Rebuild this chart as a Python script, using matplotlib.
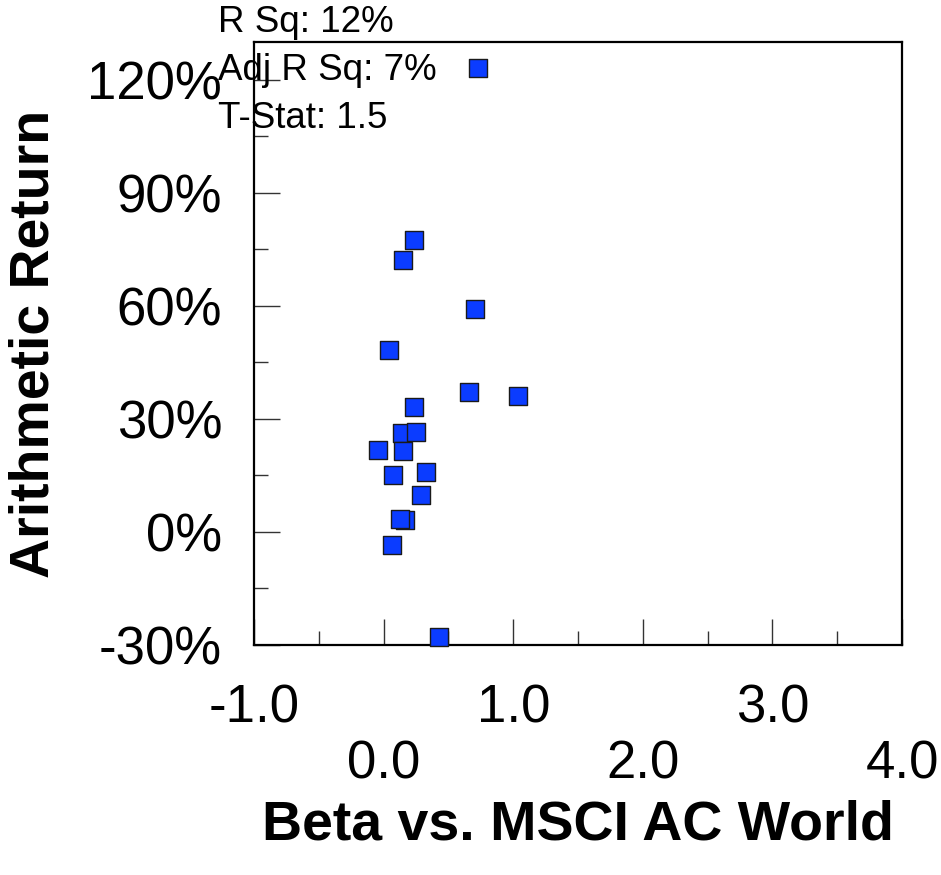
import matplotlib
matplotlib.use("Agg")
import matplotlib.pyplot as plt
from matplotlib.ticker import MultipleLocator, FuncFormatter

plt.rcParams['font.family'] = ['Liberation Sans', 'DejaVu Sans']

# beta vs. MSCI AC World and arithmetic return (%) per fund
beta = [0.233, 0.150, 0.708, 0.040, 0.662, 1.036, 0.235, 0.143, 0.248,
        -0.045, 0.148, 0.330, 0.071, 0.292, 0.166, 0.125, 0.066, 0.728, 0.428]
ret = [77.4, 72.2, 59.1, 48.3, 37.2, 36.1, 33.1, 26.3, 26.4,
       21.7, 21.4, 15.9, 15.0, 9.8, 3.1, 3.4, -3.5, 123.1, -28.0]

stats = ["R Sq: 12%", "Adj R Sq: 7%", "T-Stat: 1.5"]
x_ticks = [-1.0, 0.0, 1.0, 2.0, 3.0, 4.0]

fig = plt.figure(figsize=(9.41, 8.75), dpi=100)
ax = fig.add_axes([254 / 941, 1 - 645 / 875, 648 / 941, 603 / 875])

ax.scatter(beta, ret, marker='s', s=150, c='#0b3cff', edgecolors='#1a1a1a',
           linewidths=1.0, zorder=3, clip_on=False)

ax.set_xlim(-1.0, 4.0)
ax.set_ylim(-30, 130)

# staggered labels on the x axis
ax.set_xticks(x_ticks)
ax.set_xticklabels([("" if i % 2 == 0 else "\n") + f"{v:.1f}"
                    for i, v in enumerate(x_ticks)])
ax.xaxis.set_minor_locator(MultipleLocator(0.5))
ax.yaxis.set_major_locator(MultipleLocator(30))
ax.yaxis.set_minor_locator(MultipleLocator(15))
ax.yaxis.set_major_formatter(FuncFormatter(lambda v, p: f"{v:.0f}%"))

ax.tick_params(axis='both', which='both', direction='in', color='#333333',
               width=1.0, top=False, right=False)
ax.tick_params(axis='both', which='major', length=19, labelsize=38)
ax.tick_params(axis='both', which='minor', length=10)
ax.tick_params(axis='x', which='major', pad=28)
ax.tick_params(axis='y', which='major', pad=23)
for t in ax.get_xticklabels():
    t.set_linespacing(1.15)

for sp in ax.spines.values():
    sp.set_linewidth(1.6)
    sp.set_color('black')

ax.set_xlabel("Beta vs. MSCI AC World", fontsize=40, fontweight='bold', va='center')
ax.xaxis.set_label_coords(0.5, (645 - 825) / 603)
ax.set_ylabel("Arithmetic Return", fontsize=40, fontweight='bold', va='center')
ax.yaxis.set_label_coords((35 - 254) / 648, 0.5)

for i, s in enumerate(stats):
    fig.text(218 / 941, 1 - (23 + i * 47.5) / 875, s, fontsize=26.5,
             ha='left', va='center', zorder=5)

fig.savefig("out.png", dpi=100)
